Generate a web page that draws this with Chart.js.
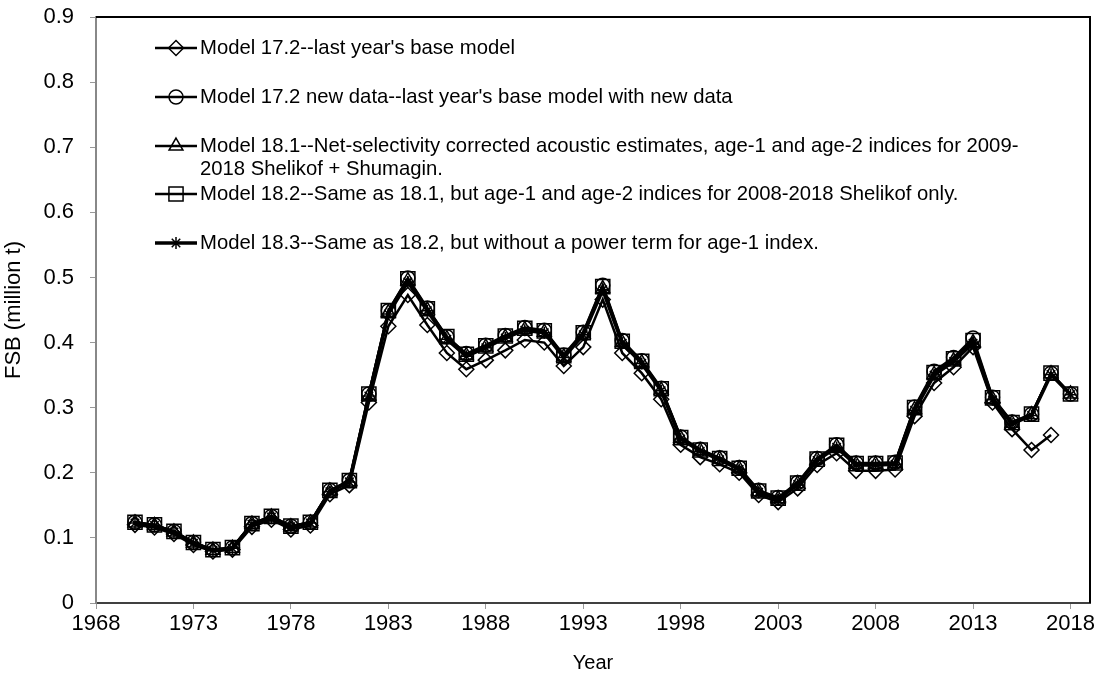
<!DOCTYPE html>
<html>
<head>
<meta charset="utf-8">
<script src="https://cdn.jsdelivr.net/npm/chart.js@4/dist/chart.umd.min.js"></script>
<style>
html, body { margin: 0; background: #fff; }
</style>
</head>
<body>
<canvas id="fsbChart" width="1102" height="679"></canvas>
<script>
// years of the assessment
const years = [1970, 1971, 1972, 1973, 1974, 1975, 1976, 1977, 1978, 1979,
    1980, 1981, 1982, 1983, 1984, 1985, 1986, 1987, 1988, 1989,
    1990, 1991, 1992, 1993, 1994, 1995, 1996, 1997, 1998, 1999,
    2000, 2001, 2002, 2003, 2004, 2005, 2006, 2007, 2008, 2009,
    2010, 2011, 2012, 2013, 2014, 2015, 2016, 2017, 2018];

// FSB (million t)
const m172 = [0.120, 0.116, 0.106, 0.089, 0.079, 0.082, 0.117, 0.128, 0.113, 0.119,
    0.167, 0.181, 0.308, 0.425, 0.473, 0.427, 0.384, 0.359, 0.373, 0.388,
    0.404, 0.400, 0.364, 0.393, 0.466, 0.384, 0.353, 0.313, 0.243, 0.224,
    0.213, 0.200, 0.166, 0.155, 0.176, 0.212, 0.230, 0.203, 0.203, 0.205,
    0.287, 0.338, 0.362, 0.393, 0.308, 0.267, 0.235, 0.258];
const m172new = [0.124, 0.120, 0.110, 0.093, 0.082, 0.085, 0.122, 0.133, 0.118, 0.124,
    0.173, 0.188, 0.321, 0.449, 0.499, 0.453, 0.409, 0.383, 0.396, 0.411,
    0.423, 0.419, 0.381, 0.416, 0.488, 0.403, 0.372, 0.330, 0.255, 0.236,
    0.223, 0.208, 0.173, 0.162, 0.185, 0.222, 0.243, 0.215, 0.215, 0.216,
    0.301, 0.356, 0.377, 0.407, 0.316, 0.278, 0.290, 0.353, 0.321];
const m181 = [0.123, 0.119, 0.109, 0.092, 0.081, 0.084, 0.121, 0.132, 0.117, 0.123,
    0.172, 0.186, 0.318, 0.446, 0.495, 0.450, 0.406, 0.380, 0.393, 0.408,
    0.420, 0.416, 0.378, 0.413, 0.483, 0.400, 0.369, 0.327, 0.253, 0.234,
    0.221, 0.206, 0.171, 0.160, 0.183, 0.220, 0.240, 0.213, 0.213, 0.214,
    0.297, 0.351, 0.372, 0.400, 0.313, 0.276, 0.289, 0.352, 0.321];
const m182 = [0.124, 0.120, 0.110, 0.093, 0.082, 0.085, 0.122, 0.133, 0.118, 0.124,
    0.173, 0.188, 0.321, 0.449, 0.498, 0.452, 0.409, 0.382, 0.395, 0.410,
    0.422, 0.418, 0.380, 0.415, 0.486, 0.402, 0.371, 0.329, 0.254, 0.235,
    0.222, 0.207, 0.172, 0.161, 0.184, 0.221, 0.242, 0.214, 0.214, 0.215,
    0.300, 0.354, 0.375, 0.403, 0.315, 0.277, 0.290, 0.353, 0.321];
const m183 = [0.123, 0.119, 0.109, 0.092, 0.081, 0.084, 0.121, 0.132, 0.117, 0.123,
    0.171, 0.186, 0.318, 0.444, 0.493, 0.449, 0.405, 0.379, 0.392, 0.407,
    0.419, 0.415, 0.377, 0.412, 0.481, 0.399, 0.368, 0.326, 0.252, 0.233,
    0.220, 0.205, 0.170, 0.159, 0.182, 0.219, 0.239, 0.212, 0.212, 0.213,
    0.296, 0.350, 0.371, 0.399, 0.312, 0.275, 0.288, 0.351, 0.320];

const xTicks = [1968, 1973, 1978, 1983, 1988, 1993, 1998, 2003, 2008, 2013, 2018];
const yTicks = [0, 0.1, 0.2, 0.3, 0.4, 0.5, 0.6, 0.7, 0.8, 0.9];

const legendText = [
    ["Model 17.2--last year's base model"],
    ["Model 17.2 new data--last year's base model with new data"],
    ["Model 18.1--Net-selectivity corrected acoustic estimates, age-1 and age-2 indices for 2009-", "2018 Shelikof + Shumagin."],
    ["Model 18.2--Same as 18.1, but age-1 and age-2 indices for 2008-2018 Shelikof only."],
    ["Model 18.3--Same as 18.2, but without a power term for age-1 index."]
];
const legendY = [48, 97, 146, 194, 243];

const FONT = "'Liberation Sans', Arial, sans-serif";

function pts(vals) {
    return vals.map((v, i) => ({ x: years[i], y: v }));
}

function series(label, vals, style, radius, lw) {
    return {
        label: label,
        data: pts(vals),
        borderColor: '#000',
        borderWidth: lw,
        backgroundColor: 'rgba(0,0,0,0)',
        pointStyle: style,
        pointRadius: radius,
        pointBorderColor: '#000',
        pointBackgroundColor: 'rgba(0,0,0,0)',
        pointBorderWidth: 1.5,
        tension: 0
    };
}

const datasets = [
    series('Model 17.2', m172, 'rectRot', 7.5, 2.5),
    series('Model 17.2 new data', m172new, 'circle', 7, 2.5),
    series('Model 18.1', m181, 'triangle', 8, 2.5),
    series('Model 18.2', m182, 'rect', 10, 2.5),
    series('Model 18.3', m183, 'star', 6, 3.5)
];

const framePlugin = {
    id: 'frame',
    afterDraw(chart) {
        const ctx = chart.ctx;
        const a = chart.chartArea;
        ctx.save();
        ctx.strokeStyle = '#000';
        ctx.lineWidth = 2;
        ctx.beginPath();
        ctx.moveTo(a.left, a.top);
        ctx.lineTo(a.right, a.top);
        ctx.lineTo(a.right, a.bottom);
        ctx.stroke();

        // legend
        ctx.font = '20.3px ' + FONT;
        ctx.textBaseline = 'middle';
        ctx.textAlign = 'left';
        datasets.forEach((ds, i) => {
            const y = legendY[i];
            ctx.strokeStyle = '#000';
            ctx.lineWidth = ds.borderWidth;
            ctx.beginPath();
            ctx.moveTo(155, y);
            ctx.lineTo(197, y);
            ctx.stroke();
            ctx.lineWidth = ds.pointBorderWidth;
            ctx.fillStyle = 'rgba(0,0,0,0)';
            if (Chart.helpers && Chart.helpers.drawPoint) {
                Chart.helpers.drawPoint(ctx, {
                    pointStyle: ds.pointStyle,
                    radius: ds.pointRadius,
                    rotation: 0,
                    borderWidth: ds.pointBorderWidth
                }, 176, y);
            }
            ctx.fillStyle = '#000';
            legendText[i].forEach((t, k) => {
                ctx.fillText(t, 200, y + k * 23);
            });
        });
        ctx.restore();
    }
};

new Chart(document.getElementById('fsbChart'), {
    type: 'line',
    data: { datasets: datasets },
    options: {
        responsive: false,
        animation: false,
        devicePixelRatio: 1,
        layout: { padding: { top: 17, right: 12, left: 0, bottom: 0 } },
        plugins: {
            legend: { display: false },
            tooltip: { enabled: false }
        },
        scales: {
            x: {
                type: 'linear',
                min: 1968,
                max: 2019,
                afterBuildTicks: s => { s.ticks = xTicks.map(v => ({ value: v })); },
                afterFit: s => { s.height = 76; },
                grid: { drawOnChartArea: false, drawTicks: true, tickLength: 6, color: '#999' },
                border: { color: '#404040', width: 2 },
                ticks: {
                    color: '#000',
                    font: { family: FONT, size: 22 },
                    padding: 2,
                    maxRotation: 0,
                    callback: v => String(v)
                },
                title: {
                    display: true,
                    text: 'Year',
                    color: '#000',
                    font: { family: FONT, size: 20 },
                    padding: { top: 0, bottom: 4 }
                }
            },
            y: {
                min: 0,
                max: 0.9,
                afterBuildTicks: s => { s.ticks = yTicks.map(v => ({ value: v })); },
                afterFit: s => {
                    s.width = 96;
                    s.paddingTop = 13;
                    s.paddingBottom = 13;
                },
                grid: { drawOnChartArea: false, drawTicks: true, tickLength: 6, color: '#999' },
                border: { color: '#888', width: 2 },
                ticks: {
                    color: '#000',
                    font: { family: FONT, size: 22 },
                    padding: 16,
                    callback: v => (v === 0 ? '0' : Number(v).toFixed(1))
                },
                title: {
                    display: true,
                    text: 'FSB (million t)',
                    color: '#000',
                    font: { family: FONT, size: 22 },
                    padding: { top: 1, bottom: 0 }
                }
            }
        }
    },
    plugins: [framePlugin]
});
</script>
</body>
</html>
